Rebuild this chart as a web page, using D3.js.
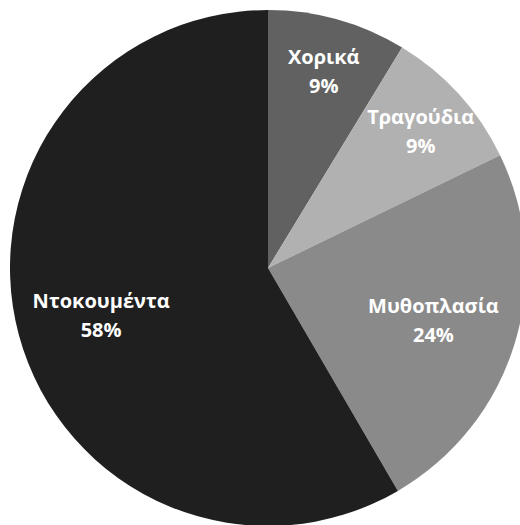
<!DOCTYPE html>
<html>
<head>
<meta charset="utf-8">
<script src="https://cdn.jsdelivr.net/npm/d3@7"></script>
<style>
  body { margin: 0; background: #fff; }
  svg { display: block; }
</style>
</head>
<body>
<div id="chart"></div>
<script>
// slices, clockwise from 12 o'clock
const categories = ["Χορικά", "Τραγούδια", "Μυθοπλασία", "Ντοκουμέντα"];
const values = [8.7, 9.1, 23.8, 58.4];
const colors = ["#616161", "#b1b1b1", "#8a8a8a", "#1f1f1f"];

const width = 520, height = 525;
const cx = 268, cy = 268, radius = 258;

const svg = d3.select("#chart")
    .append("svg")
    .attr("width", width)
    .attr("height", height)
    .append("g")
    .attr("transform", `translate(${cx},${cy})`);

const data = categories.map((c, i) => ({ name: c, value: values[i], color: colors[i] }));

const pie = d3.pie()
    .sort(null)
    .value(d => d.value);

const arc = d3.arc()
    .innerRadius(0)
    .outerRadius(radius);

const arcs = pie(data);

svg.selectAll("path")
    .data(arcs)
    .join("path")
    .attr("d", arc)
    .attr("fill", d => d.data.color);

// small slices get their labels pushed further out
function labelPos(d) {
    const span = d.endAngle - d.startAngle;
    const r = span < 1 ? radius * 0.8 : radius * 0.67;
    return d3.arc().innerRadius(r).outerRadius(r).centroid(d);
}

const pct = d3.format(".0%");

const labels = svg.selectAll("text.lbl")
    .data(arcs)
    .join("text")
    .attr("class", "lbl")
    .attr("transform", d => `translate(${labelPos(d)})`)
    .attr("text-anchor", "middle")
    .attr("fill", "#fff")
    .style("font-family", "'Open Sans', sans-serif")
    .style("font-weight", "bold")
    .style("font-size", "20px");

labels.append("tspan")
    .attr("x", 0)
    .attr("y", -5)
    .text(d => d.data.name);

labels.append("tspan")
    .attr("x", 0)
    .attr("y", 24)
    .text(d => pct(Math.round(d.data.value) / 100));
</script>
</body>
</html>
